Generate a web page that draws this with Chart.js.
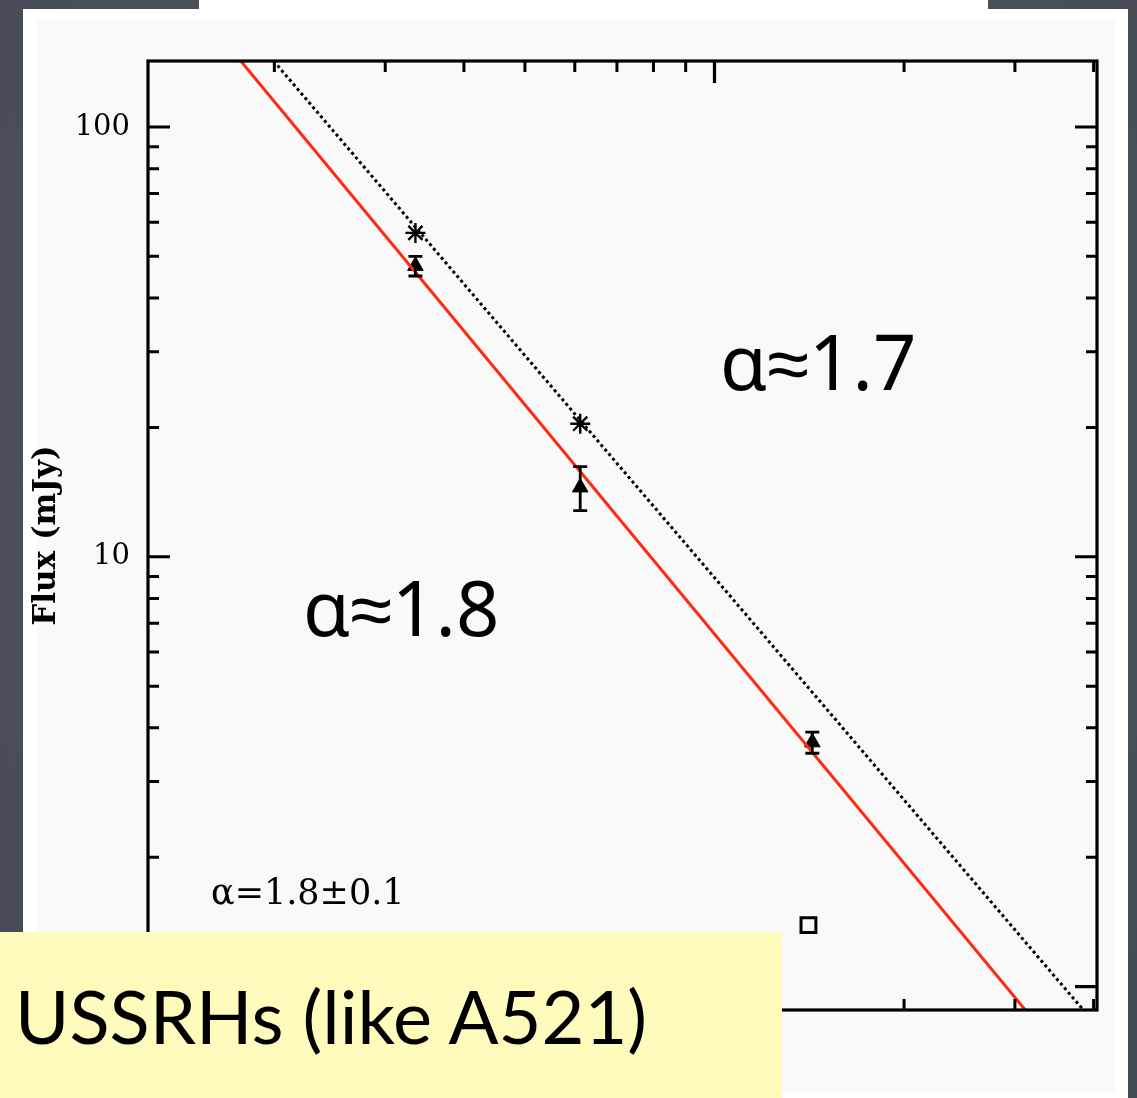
<!DOCTYPE html>
<html>
<head>
<meta charset="utf-8">
<title>A697 radio halo spectrum</title>
<script src="https://cdn.jsdelivr.net/npm/chart.js@4.4.1/dist/chart.umd.min.js"></script>
<style>
  html, body { margin: 0; padding: 0; width: 1137px; height: 1098px; overflow: hidden; }
  #slide {
    position: relative; width: 1137px; height: 1098px;
    background: radial-gradient(ellipse at 50% 40%, #5a5e69 0%, #4d515c 60%, #454954 100%);
  }
  .topstrip { position: absolute; left: 199px; top: 0; width: 789px; height: 12px; background: #ffffff; }
  .panel { position: absolute; left: 23px; top: 9px; width: 1105px; height: 1089px; background: #ffffff; }
  .inner { position: absolute; left: 37px; top: 20px; width: 1078px; height: 1072px; background: #f9f9fa; }
  #wrap { position: absolute; left: 0; top: 0; width: 1137px; height: 1098px; }
  .note {
    position: absolute; font-family: "Noto Sans", sans-serif; font-size: 76px;
    line-height: 76px; color: #000; white-space: nowrap;
  }
  .callout {
    position: absolute; left: 0; top: 932px; width: 782px; height: 166px; background: #fffbbc;
  }
  .callout span {
    position: absolute; left: 15px; top: 47px; font-family: Lato, sans-serif; font-size: 74px;
    line-height: 74px; color: #000; white-space: nowrap;
  }
</style>
</head>
<body>
<div id="slide">
  <div class="topstrip"></div>
  <div class="panel"></div>
  <div class="inner"></div>
  <div id="wrap"><canvas id="chart"></canvas></div>
  <div class="note" style="left:720px; top:323px;">α≈1.7</div>
  <div class="note" style="left:303px; top:569px;">α≈1.8</div>
  <div class="callout"><span>USSRHs (like A521)</span></div>
</div>
<script>
// Flux densities of the halo (mJy) with 1-sigma errors
const haloFreq = [335, 612, 1430];          // MHz
const haloFlux = [47.5, 14.5, 3.7];         // mJy
const haloErr  = [2.5, 1.7, 0.21];          // mJy

// Earlier measurements (asterisks)
const oldFreq = [335, 612];
const oldFlux = [56.7, 20.4];

// Single open-square measurement
const sqFreq = [1410];
const sqFlux = [1.39];

// Power-law fits, given by their end points
const fitFreq    = [176.9, 3116];           // alpha = 1.8 fit (red)
const fitFlux    = [142.4, 0.882];
const fitAltFreq = [199.5, 3853];           // alpha = 1.7 fit (dotted)
const fitAltFlux = [142.4, 0.882];

// Axis ranges and ticks
const xRange = [126, 4050];
const yRange = [0.882, 142.4];
const xMajor = [1000];
const xMinor = [200, 300, 400, 500, 600, 700, 800, 900, 2000, 3000, 4000];
const yMajor = [1, 10, 100];
const yMajorLabels = ['1', '10', '100'];
const yMinor = [2, 3, 4, 5, 6, 7, 8, 9, 20, 30, 40, 50, 60, 70, 80, 90];

const fitLabel = 'α=1.8±0.1';

const toPts = (xs, ys) => xs.map((x, i) => ({ x: x, y: ys[i] }));

// Frame, inward tick marks, error bars and the fit label
const framePlugin = {
  id: 'framePlugin',
  afterDatasetsDraw(chart) {
    const { ctx, chartArea: a, scales: { x, y } } = chart;
    ctx.save();
    ctx.strokeStyle = '#000';
    ctx.lineCap = 'butt';

    // error bars
    ctx.lineWidth = 2.8;
    haloFreq.forEach((f, i) => {
      const px = x.getPixelForValue(f);
      const top = y.getPixelForValue(haloFlux[i] + haloErr[i]);
      const bot = y.getPixelForValue(haloFlux[i] - haloErr[i]);
      ctx.beginPath();
      ctx.moveTo(px, top); ctx.lineTo(px, bot);
      ctx.moveTo(px - 7, top); ctx.lineTo(px + 7, top);
      ctx.moveTo(px - 7, bot); ctx.lineTo(px + 7, bot);
      ctx.stroke();
    });

    // tick marks on all four sides
    const xt = (vals, len, w) => {
      ctx.lineWidth = w;
      vals.forEach(v => {
        const px = x.getPixelForValue(v);
        ctx.beginPath();
        ctx.moveTo(px, a.top); ctx.lineTo(px, a.top + len);
        ctx.moveTo(px, a.bottom); ctx.lineTo(px, a.bottom - len);
        ctx.stroke();
      });
    };
    const yt = (vals, len, w) => {
      ctx.lineWidth = w;
      vals.forEach(v => {
        const py = y.getPixelForValue(v);
        ctx.beginPath();
        ctx.moveTo(a.left, py); ctx.lineTo(a.left + len, py);
        ctx.moveTo(a.right, py); ctx.lineTo(a.right - len, py);
        ctx.stroke();
      });
    };
    xt(xMajor, 22, 3.2);
    xt(xMinor, 11, 3);
    yt(yMajor, 22, 3.2);
    yt(yMinor, 11, 3);

    // frame
    ctx.lineWidth = 3.2;
    ctx.strokeRect(a.left, a.top, a.right - a.left, a.bottom - a.top);

    // fit label
    ctx.fillStyle = '#000';
    ctx.font = '35px "DejaVu Serif"';
    ctx.textBaseline = 'alphabetic';
    ctx.textAlign = 'left';
    ctx.fillText(fitLabel, a.left + 63, a.top + 843);
    ctx.restore();
  }
};

new Chart(document.getElementById('chart'), {
  type: 'scatter',
  data: {
    datasets: [
      {
        label: 'fit alpha 1.8',
        data: toPts(fitFreq, fitFlux),
        showLine: true, borderColor: '#ff2a12', borderWidth: 3,
        pointRadius: 0, fill: false
      },
      {
        label: 'fit alpha 1.7',
        data: toPts(fitAltFreq, fitAltFlux),
        showLine: true, borderColor: '#000', borderWidth: 3, borderDash: [3, 3],
        pointRadius: 0, fill: false
      },
      {
        label: 'halo',
        data: toPts(haloFreq, haloFlux),
        pointStyle: 'triangle', pointRadius: 9,
        backgroundColor: '#000', borderColor: '#000', borderWidth: 1
      },
      {
        label: 'earlier',
        data: toPts(oldFreq, oldFlux),
        pointStyle: 'star', pointRadius: 10,
        borderColor: '#000', borderWidth: 2.4
      },
      {
        label: 'square',
        data: toPts(sqFreq, sqFlux),
        pointStyle: 'rect', pointRadius: 10.5,
        backgroundColor: 'rgba(0,0,0,0)', borderColor: '#000', borderWidth: 3
      }
    ]
  },
  options: {
    responsive: true,
    maintainAspectRatio: false,
    animation: false,
    layout: { padding: { top: 61, right: 40, bottom: 88, left: 0 } },
    plugins: { legend: { display: false }, tooltip: { enabled: false } },
    scales: {
      x: {
        type: 'logarithmic', min: xRange[0], max: xRange[1], display: false
      },
      y: {
        type: 'logarithmic', min: yRange[0], max: yRange[1],
        afterBuildTicks: s => { s.ticks = yMajor.map(v => ({ value: v })); },
        afterFit: s => { s.width = 148; },
        grid: { display: false },
        border: { display: false },
        ticks: {
          autoSkip: false, padding: 10, color: '#000',
          font: { family: 'DejaVu Serif', size: 29 },
          callback: (v, i) => yMajorLabels[i]
        },
        title: {
          display: true, text: 'Flux (mJy)', color: '#000',
          font: { family: 'DejaVu Serif', size: 31, weight: 'bold' },
          padding: { top: 28, bottom: 0 },
          align: 'center'
        }
      }
    }
  },
  plugins: [framePlugin]
});
</script>
</body>
</html>
